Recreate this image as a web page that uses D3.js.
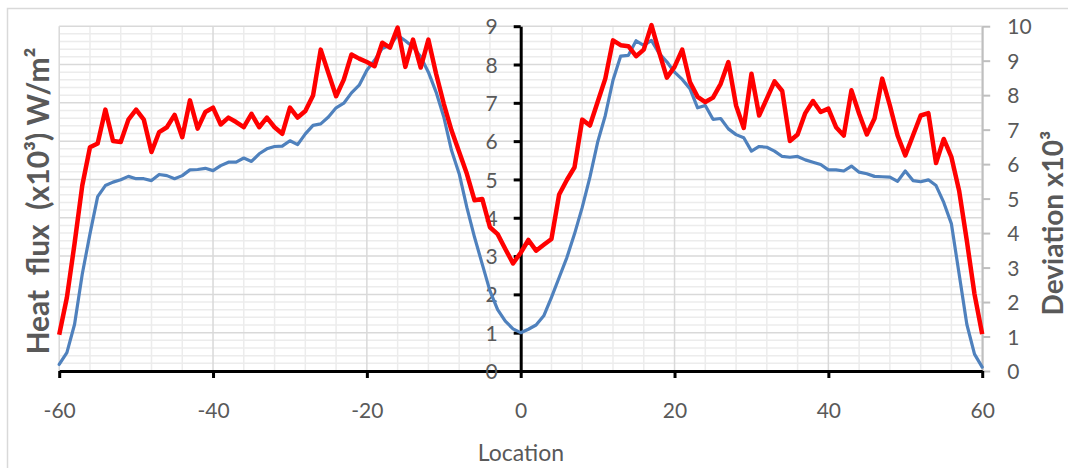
<!DOCTYPE html>
<html>
<head>
<meta charset="utf-8">
<script src="https://cdn.jsdelivr.net/npm/d3@7"></script>
<style>
  html, body { margin: 0; padding: 0; background: #ffffff; }
  svg { display: block; }
  text { font-family: Lato, "Open Sans", sans-serif; }
</style>
</head>
<body>
<svg id="chart" width="1068" height="468"></svg>
<script>
// ---------- DATA ----------
const locations = [
  -60,-59,-58,-57,-56,-55,-54,-53,-52,-51,-50,-49,-48,-47,-46,-45,-44,-43,-42,-41,
  -40,-39,-38,-37,-36,-35,-34,-33,-32,-31,-30,-29,-28,-27,-26,-25,-24,-23,-22,-21,
  -20,-19,-18,-17,-16,-15,-14,-13,-12,-11,-10,-9,-8,-7,-6,-5,-4,-3,-2,-1,
  0,1,2,3,4,5,6,7,8,9,10,11,12,13,14,15,16,17,18,19,
  20,21,22,23,24,25,26,27,28,29,30,31,32,33,34,35,36,37,38,39,
  40,41,42,43,44,45,46,47,48,49,50,51,52,53,54,55,56,57,58,59,60
];

// Heat flux (x10^3 W/m^2), left axis
const heatFlux = [
  0.17,0.48,1.22,2.53,3.58,4.55,4.84,4.93,4.99,5.08,5.02,5.02,4.97,5.13,5.10,5.02,5.10,5.25,5.26,5.29,
  5.23,5.36,5.45,5.45,5.56,5.47,5.67,5.80,5.86,5.87,6.01,5.91,6.19,6.41,6.45,6.63,6.87,6.99,7.26,7.46,
  7.85,8.11,8.42,8.50,8.76,8.62,8.46,8.20,7.80,7.28,6.63,5.76,5.15,4.27,3.49,2.79,2.09,1.60,1.30,1.10,
  1.00,1.09,1.20,1.44,1.92,2.44,2.96,3.58,4.27,5.06,5.97,6.67,7.59,8.22,8.24,8.62,8.50,8.63,8.29,8.07,
  7.80,7.61,7.37,6.87,6.93,6.57,6.59,6.32,6.17,6.09,5.74,5.86,5.84,5.74,5.60,5.58,5.60,5.51,5.45,5.39,
  5.25,5.25,5.22,5.35,5.19,5.15,5.08,5.07,5.06,4.95,5.22,4.97,4.94,4.99,4.84,4.40,3.84,2.53,1.22,0.44,0.10
];

// Deviation (x10^3), right axis
const deviation = [
  1.05,2.13,3.70,5.38,6.49,6.60,7.58,6.67,6.64,7.29,7.58,7.29,6.35,6.93,7.07,7.43,6.78,7.85,7.03,7.51,
  7.64,7.15,7.35,7.22,7.07,7.46,7.07,7.35,7.07,6.88,7.64,7.35,7.54,7.99,9.32,8.64,7.97,8.45,9.18,9.06,
  8.96,8.84,9.52,9.38,9.96,8.82,9.61,8.80,9.61,8.62,7.75,6.98,6.35,5.72,4.95,4.99,4.17,3.97,3.54,3.12,
  3.43,3.80,3.49,3.66,3.83,5.12,5.54,5.91,7.29,7.12,7.80,8.48,9.59,9.45,9.42,9.13,9.32,10.03,9.25,8.51,
  8.82,9.32,8.38,7.95,7.80,7.93,8.33,8.96,7.70,7.05,8.62,7.41,7.90,8.40,8.12,6.67,6.86,7.48,7.83,7.51,
  7.61,7.07,6.83,8.14,7.46,6.86,7.32,8.48,7.70,6.83,6.25,6.83,7.41,7.48,6.03,6.73,6.20,5.23,3.78,2.23,1.07
];

const xTicks = [-60, -40, -20, 0, 20, 40, 60];
const xTickLabels = ["-60", "-40", "-20", "0", "20", "40", "60"];
const leftTicks = [0, 1, 2, 3, 4, 5, 6, 7, 8, 9];
const rightTicks = [0, 1, 2, 3, 4, 5, 6, 7, 8, 9, 10];
const xMinorTicks = [-60,-56,-52,-48,-44,-40,-36,-32,-28,-24,-20,-16,-12,-8,-4,0,4,8,12,16,20,24,28,32,36,40,44,48,52,56,60];

const xTitle = "Location";
const leftTitle = "Heat  flux  (x10³) W/m²";
const rightTitle = "Deviation x10³";

// ---------- LAYOUT ----------
const svg = d3.select("#chart");
const L = 59.2, R = 982.2, T = 26.2, B = 371;
const textColor = "#595959";

const x = d3.scaleLinear().domain([-60, 60]).range([L, R]);
const yL = d3.scaleLinear().domain([0, 9]).range([B, T]);
const yR = d3.scaleLinear().domain([0, 10]).range([B, T]);

// outer chart border
svg.append("rect")
  .attr("x", 7.5).attr("y", 8.5).attr("width", 1080).attr("height", 480)
  .attr("fill", "#ffffff").attr("stroke", "#d9d9d9").attr("stroke-width", 1.5);

// gridlines
const grid = svg.append("g");
const minorY = d3.range(0, 45).map(i => i * 0.2).filter(v => Math.abs(v - Math.round(v)) > 1e-6);
grid.selectAll(".hminor").data(minorY).join("line")
  .attr("x1", L).attr("x2", R)
  .attr("y1", d => yL(d)).attr("y2", d => yL(d))
  .attr("stroke", "#ececec").attr("stroke-width", 1.5);
grid.selectAll(".vminor").data(xMinorTicks.filter(v => v % 20 !== 0)).join("line")
  .attr("x1", d => x(d)).attr("x2", d => x(d))
  .attr("y1", T).attr("y2", B)
  .attr("stroke", "#ececec").attr("stroke-width", 1.5);
grid.selectAll(".hmajor").data(leftTicks).join("line")
  .attr("x1", L).attr("x2", R)
  .attr("y1", d => yL(d)).attr("y2", d => yL(d))
  .attr("stroke", "#d9d9d9").attr("stroke-width", 1.5);
grid.selectAll(".vmajor").data(xTicks).join("line")
  .attr("x1", d => x(d)).attr("x2", d => x(d))
  .attr("y1", T).attr("y2", B)
  .attr("stroke", "#d9d9d9").attr("stroke-width", 1.5);

// right axis (deviation)
const rAxis = svg.append("g").attr("transform", `translate(${R},0)`)
  .call(d3.axisRight(yR).tickValues(rightTicks).tickSize(8).tickSizeOuter(0).tickPadding(17).tickFormat(d => String(d)));
rAxis.select(".domain").attr("stroke", "#bfbfbf").attr("stroke-width", 2);
rAxis.selectAll(".tick line").attr("stroke", "#bfbfbf").attr("stroke-width", 2);
rAxis.selectAll(".tick text").attr("fill", textColor).style("font-size", "21px").attr("dy", "0.36em");

// x axis
const xAxis = svg.append("g").attr("transform", `translate(0,${B})`)
  .call(d3.axisBottom(x).tickValues(xTicks).tickSize(7).tickSizeOuter(0).tickPadding(0)
    .tickFormat((d, i) => xTickLabels[i]));
xAxis.select(".domain").attr("stroke", "#000").attr("stroke-width", 3);
xAxis.selectAll(".tick line").attr("stroke", "#000").attr("stroke-width", 3);
xAxis.selectAll(".tick text").attr("fill", textColor).style("font-size", "21px")
  .attr("y", 47).attr("dy", 0);

// left axis at x = 0
const lAxis = svg.append("g").attr("transform", `translate(${x(0)},0)`)
  .call(d3.axisLeft(yL).tickValues(leftTicks).tickSize(7).tickSizeOuter(0).tickPadding(16).tickFormat(d => String(d)));
lAxis.select(".domain").attr("stroke", "#000").attr("stroke-width", 3);
lAxis.selectAll(".tick line").attr("stroke", "#000").attr("stroke-width", 3);
lAxis.selectAll(".tick text").attr("fill", textColor).style("font-size", "21px").attr("dy", "0.36em");

svg.selectAll(".tick text").style("font-family", "Lato, 'Open Sans', sans-serif");

// series lines
const lineL = d3.line().x((d, i) => x(locations[i])).y(d => yL(d));
const lineR = d3.line().x((d, i) => x(locations[i])).y(d => yR(d));

svg.append("path").datum(heatFlux)
  .attr("d", lineL).attr("fill", "none")
  .attr("stroke", "#4f81bd").attr("stroke-width", 3.2)
  .attr("stroke-linejoin", "round").attr("stroke-linecap", "round");

svg.append("path").datum(deviation)
  .attr("d", lineR).attr("fill", "none")
  .attr("stroke", "#ff0000").attr("stroke-width", 4.5)
  .attr("stroke-linejoin", "round");

// axis titles
svg.append("text")
  .attr("x", 521).attr("y", 461)
  .attr("text-anchor", "middle")
  .attr("fill", textColor).style("font-size", "23px")
  .text(xTitle);

svg.append("text")
  .attr("transform", "translate(49,201) rotate(-90)")
  .attr("text-anchor", "middle")
  .attr("fill", textColor).style("font-size", "30px").style("font-weight", "bold")
  .style("white-space", "pre").attr("xml:space", "preserve")
  .text(leftTitle);

svg.append("text")
  .attr("transform", "translate(1063,223) rotate(-90)")
  .attr("text-anchor", "middle")
  .attr("fill", textColor).style("font-size", "28px").style("font-weight", "bold")
  .text(rightTitle);
</script>
</body>
</html>
